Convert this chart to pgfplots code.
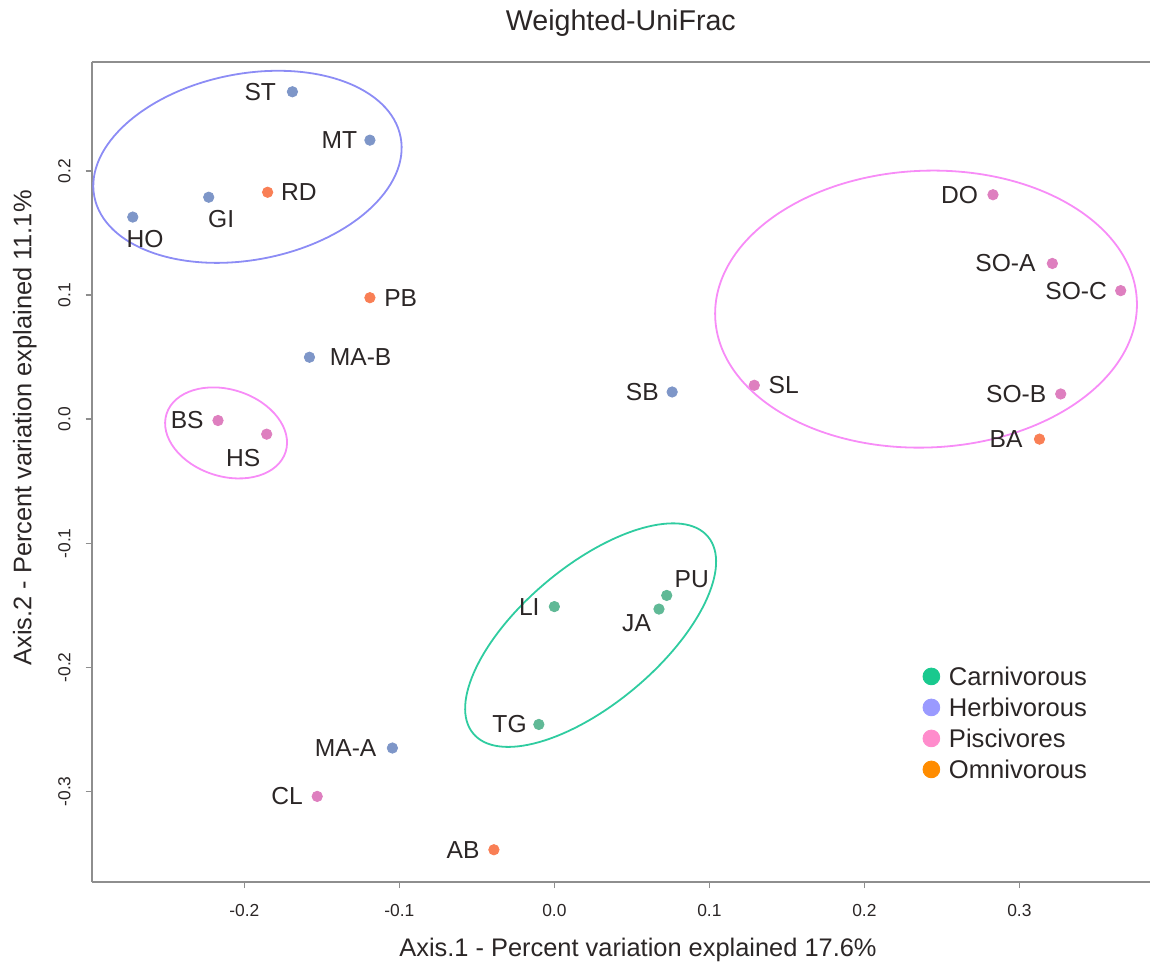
\documentclass[border=0pt]{standalone}
\usepackage{pgfplots}
\pgfplotsset{compat=1.18}
\usepackage{fontspec}
\setmainfont{Liberation Sans}
\definecolor{txt}{HTML}{2B2626}
\definecolor{axgray}{HTML}{8E8E8E}
\definecolor{herb}{HTML}{7E96C8}
\definecolor{carn}{HTML}{60B996}
\definecolor{pisc}{HTML}{DE7FBF}
\definecolor{omni}{HTML}{F97F55}
\definecolor{elblue}{HTML}{8C8CF5}
\definecolor{elpink}{HTML}{F78CF7}
\definecolor{elgreen}{HTML}{2FCCA0}
\definecolor{lcarn}{HTML}{19C98E}
\definecolor{lherb}{HTML}{9A9AFF}
\definecolor{lpisc}{HTML}{FF8CCC}
\definecolor{lomni}{HTML}{FF8C00}
\pgfplotstableread[row sep=\\]{x y\\ -0.169 0.264\\ -0.119 0.225\\ -0.223 0.179\\ -0.272 0.163\\ -0.158 0.050\\ 0.076 0.022\\ -0.1045 -0.265\\}\herbtab
\pgfplotstableread[row sep=\\]{x y\\ -0.185 0.183\\ -0.119 0.098\\ 0.313 -0.016\\ -0.039 -0.347\\}\omnitab
\pgfplotstableread[row sep=\\]{x y\\ -0.217 -0.001\\ -0.1856 -0.012\\ 0.129 0.0274\\ 0.283 0.181\\ 0.3213 0.1256\\ 0.3654 0.1037\\ 0.3267 0.0204\\ -0.153 -0.304\\}\pisctab
\pgfplotstableread[row sep=\\]{x y\\ 0.000 -0.151\\ 0.0725 -0.142\\ 0.0675 -0.153\\ -0.010 -0.246\\}\carntab
\begin{document}
\begin{tikzpicture}
\path[use as bounding box] (-45.85pt,-43.5pt) rectangle (529.15pt,441pt);
\begin{axis}[
  at={(0,0)}, anchor=south west,
  scale only axis, width=529.15pt, height=410pt,
  xmin=-0.2985, xmax=0.3843, ymin=-0.373, ymax=0.288,
  clip=false,
  axis x line*=bottom, axis y line*=left,
  axis line style={draw=axgray, line width=1pt, -},
  xtick={-0.2,-0.1,0,0.1,0.2,0.3},
  xticklabels={-0.2,-0.1,0.0,0.1,0.2,0.3},
  ytick={-0.3,-0.2,-0.1,0,0.1,0.2},
  yticklabels={-0.3,-0.2,-0.1,0.0,0.1,0.2},
  tick align=outside, major tick length=3pt,
  tick style={draw=axgray, line width=0.8pt},
  xticklabel style={font=\fontsize{8.7}{10}\selectfont, text=txt, anchor=north, inner sep=0pt},
  yticklabel style={font=\fontsize{8.7}{10}\selectfont, text=txt, rotate=90, anchor=south, inner sep=0pt},
  xticklabel shift=7.9pt, yticklabel shift=7.4pt,
  title={Weighted-UniFrac},
  title style={font=\fontsize{14.3}{16}\selectfont, text=txt, at={(axis description cs:0.5,1.0488)}, anchor=center, yshift=-6.5pt},
  xlabel={Axis.1 - Percent variation explained 17.6\%},
  ylabel={Axis.2 - Percent variation explained 11.1\%},
  xlabel style={font=\fontsize{12.7}{15}\selectfont, text=txt, at={(axis description cs:0.5162,-0.0829)}, anchor=center},
  ylabel style={font=\fontsize{12.7}{15}\selectfont, text=txt, at={(axis description cs:-0.0631,0.5537)}, anchor=center},
  legend style={at={(axis description cs:0.7851,0.2624)}, anchor=north west, draw=none, fill=none, inner sep=0pt,
    row sep=6.3pt, font=\fontsize{12.8}{15}\selectfont, text=txt,
    nodes={inner sep=0pt, text height=9.2pt, text depth=0pt, anchor=west},
    /tikz/every odd column/.append style={column sep=4.6pt}},
  legend cell align=left,
]
\addlegendimage{only marks, mark=*, mark size=4.2pt, color=lcarn}
\addlegendentry{Carnivorous}
\addlegendimage{only marks, mark=*, mark size=4.2pt, color=lherb}
\addlegendentry{Herbivorous}
\addlegendimage{only marks, mark=*, mark size=4.2pt, color=lpisc}
\addlegendentry{Piscivores}
\addlegendimage{only marks, mark=*, mark size=4.2pt, color=lomni}
\addlegendentry{Omnivorous}

\draw[axgray, line width=1pt] (rel axis cs:0,1) -- (rel axis cs:1,1);

\draw[elblue, line width=0.9pt] (axis cs:-0.198,0.2035) ellipse [x radius=78pt, y radius=46.5pt, rotate=11];
\draw[elpink, line width=0.9pt] (axis cs:-0.2118,-0.011) ellipse [x radius=31.25pt, y radius=21.7pt, rotate=-17.8];
\draw[elpink, line width=0.9pt] (axis cs:0.2398,0.0888) ellipse [x radius=105.5pt, y radius=69.2pt, rotate=2.2];
\draw[elgreen, line width=0.9pt] (axis cs:0.0234,-0.174) ellipse [x radius=76.6pt, y radius=34.5pt, rotate=40];

\addplot[only marks, mark=*, mark size=2.6pt, color=herb, forget plot] table {\herbtab};
\addplot[only marks, mark=*, mark size=2.6pt, color=omni, forget plot] table {\omnitab};
\addplot[only marks, mark=*, mark size=2.6pt, color=pisc, forget plot] table {\pisctab};
\addplot[only marks, mark=*, mark size=2.6pt, color=carn, forget plot] table {\carntab};

\begin{scope}[every node/.style={font=\fontsize{12.3}{14}\selectfont, text=txt, inner sep=0pt}]
\node[anchor=east] at ([xshift=-8pt]axis cs:-0.169,0.264) {ST};
\node[anchor=east] at ([xshift=-6.2pt]axis cs:-0.119,0.225) {MT};
\node[anchor=west] at ([xshift=6.5pt]axis cs:-0.185,0.183) {RD};
\node[anchor=center] at ([xshift=6.2pt,yshift=-10.7pt]axis cs:-0.223,0.179) {GI};
\node[anchor=center] at ([xshift=6.2pt,yshift=-11.2pt]axis cs:-0.272,0.163) {HO};
\node[anchor=west] at ([xshift=7pt]axis cs:-0.119,0.098) {PB};
\node[anchor=west] at ([xshift=10pt]axis cs:-0.158,0.050) {MA-B};
\node[anchor=east] at ([xshift=-7pt]axis cs:-0.217,-0.001) {BS};
\node[anchor=center] at ([xshift=-11.7pt,yshift=-11.7pt]axis cs:-0.1856,-0.012) {HS};
\node[anchor=east] at ([xshift=-6.5pt]axis cs:0.076,0.022) {SB};
\node[anchor=west] at ([xshift=7pt]axis cs:0.129,0.0274) {SL};
\node[anchor=east] at ([xshift=-7.3pt]axis cs:0.283,0.181) {DO};
\node[anchor=east] at ([xshift=-8.2pt]axis cs:0.3213,0.1256) {SO-A};
\node[anchor=east] at ([xshift=-6.7pt]axis cs:0.3654,0.1037) {SO-C};
\node[anchor=east] at ([xshift=-7pt]axis cs:0.3267,0.0204) {SO-B};
\node[anchor=east] at ([xshift=-8.3pt]axis cs:0.313,-0.016) {BA};
\node[anchor=east] at ([xshift=-7.2pt]axis cs:0.000,-0.151) {LI};
\node[anchor=center] at ([xshift=12.5pt,yshift=7.9pt]axis cs:0.0725,-0.142) {PU};
\node[anchor=center] at ([xshift=-11.2pt,yshift=-7.2pt]axis cs:0.0675,-0.153) {JA};
\node[anchor=east] at ([xshift=-5.9pt]axis cs:-0.010,-0.246) {TG};
\node[anchor=east] at ([xshift=-7.8pt]axis cs:-0.1045,-0.265) {MA-A};
\node[anchor=east] at ([xshift=-7pt]axis cs:-0.153,-0.304) {CL};
\node[anchor=east] at ([xshift=-7pt]axis cs:-0.039,-0.347) {AB};
\end{scope}
\end{axis}
\end{tikzpicture}
\end{document}
